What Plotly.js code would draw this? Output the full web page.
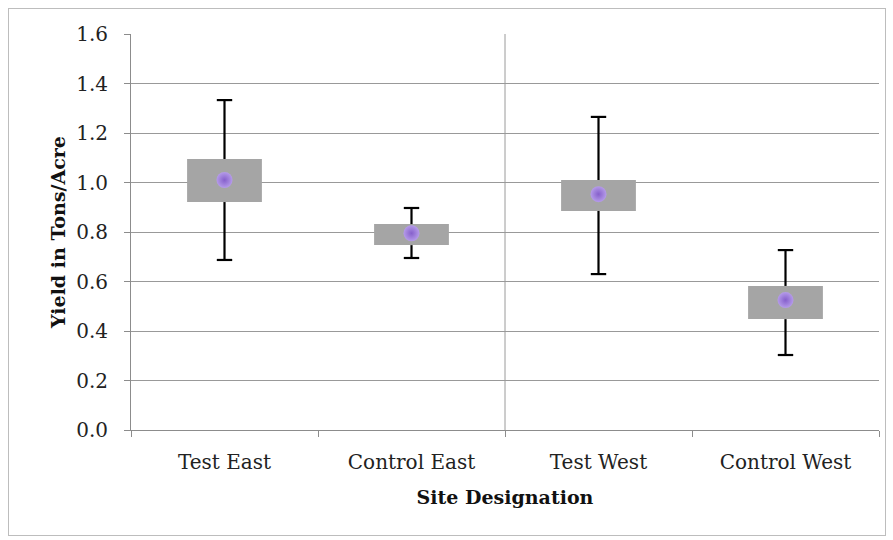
<!DOCTYPE html>
<html><head><meta charset="utf-8">
<script src="https://cdn.plot.ly/plotly-3.0.1.min.js"></script>
<style>html,body{margin:0;padding:0;background:#fff;}#wrap{position:relative;width:893px;height:540px;}#frame{position:absolute;left:8px;top:8px;width:876px;height:526px;border:1px solid #bdbdbd;pointer-events:none;}</style>
</head><body><div id="wrap"><div id="chart" style="width:893px;height:540px;"></div><div id="frame"></div></div>
<script>
const sites = ["Test East", "Control East", "Test West", "Control West"];
const meanYield = [1.01, 0.795, 0.953, 0.525];
const boxHigh = [1.095, 0.832, 1.01, 0.582];
const boxLow = [0.921, 0.747, 0.885, 0.448];
const whiskerHigh = [1.333, 0.897, 1.265, 0.727];
const whiskerLow = [0.687, 0.695, 0.63, 0.303];
const yTicks = [0, 0.2, 0.4, 0.6, 0.8, 1.0, 1.2, 1.4, 1.6];

const font = "DejaVu Serif, serif";
const wx = [], wy = [];
sites.forEach((s, i) => {
  wx.push(s, s, null, s, s, null);
  wy.push(boxHigh[i], whiskerHigh[i], null, boxLow[i], whiskerLow[i], null);
});
const capX = sites.concat(sites);
const capY = whiskerHigh.concat(whiskerLow);

const traces = [
  {type: 'bar', x: sites, y: boxHigh.map((h, i) => h - boxLow[i]), base: boxLow, width: 0.4,
   marker: {color: '#a5a5a5', line: {width: 0}}, hoverinfo: 'skip', showlegend: false},
  {type: 'scatter', mode: 'lines', x: wx, y: wy, line: {color: '#000', width: 2.2},
   hoverinfo: 'skip', showlegend: false},
  {type: 'scatter', mode: 'markers', x: capX, y: capY,
   marker: {symbol: 'line-ew', size: 11, line: {color: '#000', width: 2.2}},
   hoverinfo: 'skip', showlegend: false},
  {type: 'scatter', mode: 'markers', x: sites, y: meanYield,
   marker: {size: 16, color: '#b59be9', gradient: {type: 'radial', color: '#8660cc'}, line: {width: 0}},
   showlegend: false}
];

const layout = {
  width: 893, height: 540,
  margin: {l: 131, r: 14, t: 34, b: 110},
  paper_bgcolor: '#fff', plot_bgcolor: '#fff',
  font: {family: font, color: '#222', size: 19},
  xaxis: {type: 'category', categoryorder: 'array', categoryarray: sites, tickson: 'boundaries',
    range: [-0.5, 3.5], showgrid: false, showline: true, linecolor: '#8c8c8c', linewidth: 1,
    ticks: 'outside', ticklen: 6, tickcolor: '#8c8c8c', ticklabelstandoff: 14,
    tickfont: {family: font, size: 20, color: '#222'},
    title: {text: '<b>Site Designation</b>', font: {family: font, size: 19, color: '#111'}, standoff: 17}},
  yaxis: {range: [0, 1.6], tickvals: yTicks, ticktext: yTicks.map(v => v.toFixed(1)),
    showgrid: true, gridcolor: '#999', gridwidth: 1, zeroline: false,
    showline: true, linecolor: '#8c8c8c', ticks: 'outside', ticklen: 6, tickcolor: '#8c8c8c',
    ticklabelstandoff: 12,
    tickfont: {family: font, size: 20, color: '#222'},
    title: {text: '<b>Yield in Tons/Acre</b>', font: {family: font, size: 19, color: '#111'}, standoff: 5}},
  shapes: [{type: 'line', xref: 'x', yref: 'paper', x0: 1.5, x1: 1.5, y0: 0, y1: 1,
    line: {color: '#9a9a9a', width: 1}, layer: 'below'}],
  bargap: 0.6
};
Plotly.newPlot('chart', traces, layout, {displayModeBar: false, staticPlot: true});
</script></body></html>
